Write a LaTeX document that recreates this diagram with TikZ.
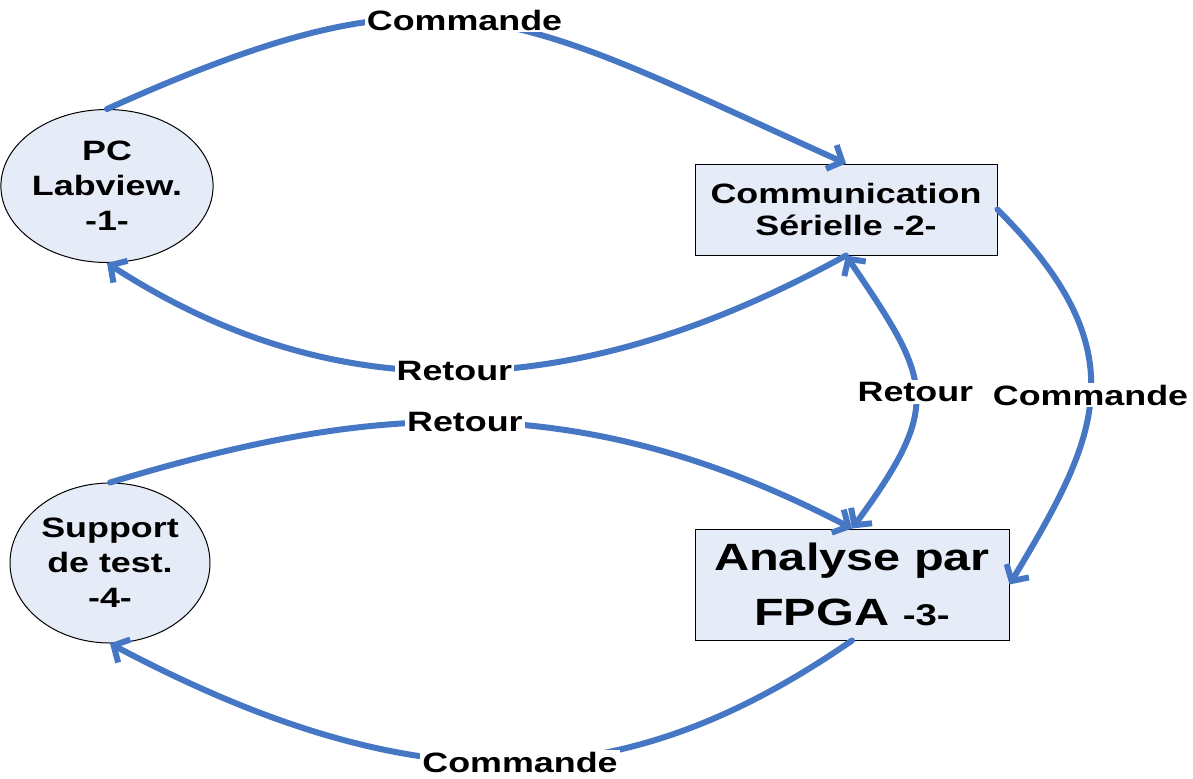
\documentclass[tikz,border=0pt]{standalone}
\usepackage{fontspec}
\setmainfont{Liberation Sans}[FakeStretch=1.28]
\usetikzlibrary{arrows.meta, shapes.geometric}
\usepackage{xcolor}
\definecolor{flowblue}{RGB}{70,119,196}
\definecolor{nodefill}{RGB}{230,236,247}

\begin{document}
\begin{tikzpicture}[
  x=0.5pt, y=-0.5pt,
  station/.style={draw, ellipse, fill=nodefill, line width=0.5pt, inner sep=0pt, align=center, font=\bfseries\fontsize{14}{17.5}\selectfont},
  block/.style={draw, rectangle, fill=nodefill, line width=0.5pt, inner sep=0pt, align=center},
  flow/.style={-{Straight Barb[length=6pt,width=13pt]}, line width=3pt, flowblue, line cap=round},
  flowboth/.style={flow, {Straight Barb[length=6pt,width=13pt]}-{Straight Barb[length=6pt,width=13pt]}},
  flowlabel/.style={fill=white, inner sep=1pt, text=black, font=\bfseries\fontsize{14}{16}\selectfont}
]
\useasboundingbox (0,0) rectangle (1193,778);

% Nodes (pixel coordinates of the drawing, y pointing down)
\node[station, minimum width=97pt, minimum height=76.5pt] (pc) at (107,186) {PC\\Labview.\\-1-};
\node[station, minimum width=100pt, minimum height=80pt] (sup) at (110,563) {Support\\de test.\\-4-};
\node[block, minimum width=151pt, minimum height=45.5pt, font=\bfseries\fontsize{14}{16}\selectfont] (comm) at (846,209.5) {Communication\\Sérielle -2-};
\node[block, minimum width=157pt, minimum height=55.5pt, font=\bfseries\fontsize{19}{27.5}\selectfont] (fpga) at (852,584.5) {Analyse par\\FPGA {\fontsize{15}{16}\selectfont -3-}};

% Links between the blocks
\draw[flow] (pc.north) .. controls +(340,-153) and +(-340,-153) .. (comm.north) node[flowlabel, pos=0.48] {Commande};
\draw[flow] (comm.south) .. controls +(-247,136) and +(247,160) .. (pc.south) node[flowlabel, pos=0.53] {Retour};
\draw[flowboth] (comm.south) .. controls +(85,125) and +(92,-125) .. (fpga.north) node[flowlabel, pos=0.5] {Retour};
\draw[flow] (comm.east) .. controls +(143,143) and +(89,-148) .. (fpga.east) node[flowlabel, pos=0.5] {Commande};
\draw[flow] (sup.north) .. controls +(243,-73) and +(-286,-149) .. (fpga.north) node[flowlabel, pos=0.5] {Retour};
\draw[flow] (fpga.south) .. controls +(-217,150) and +(321,170) .. (sup.south) node[flowlabel, pos=0.5] {Commande};
\end{tikzpicture}
\end{document}
